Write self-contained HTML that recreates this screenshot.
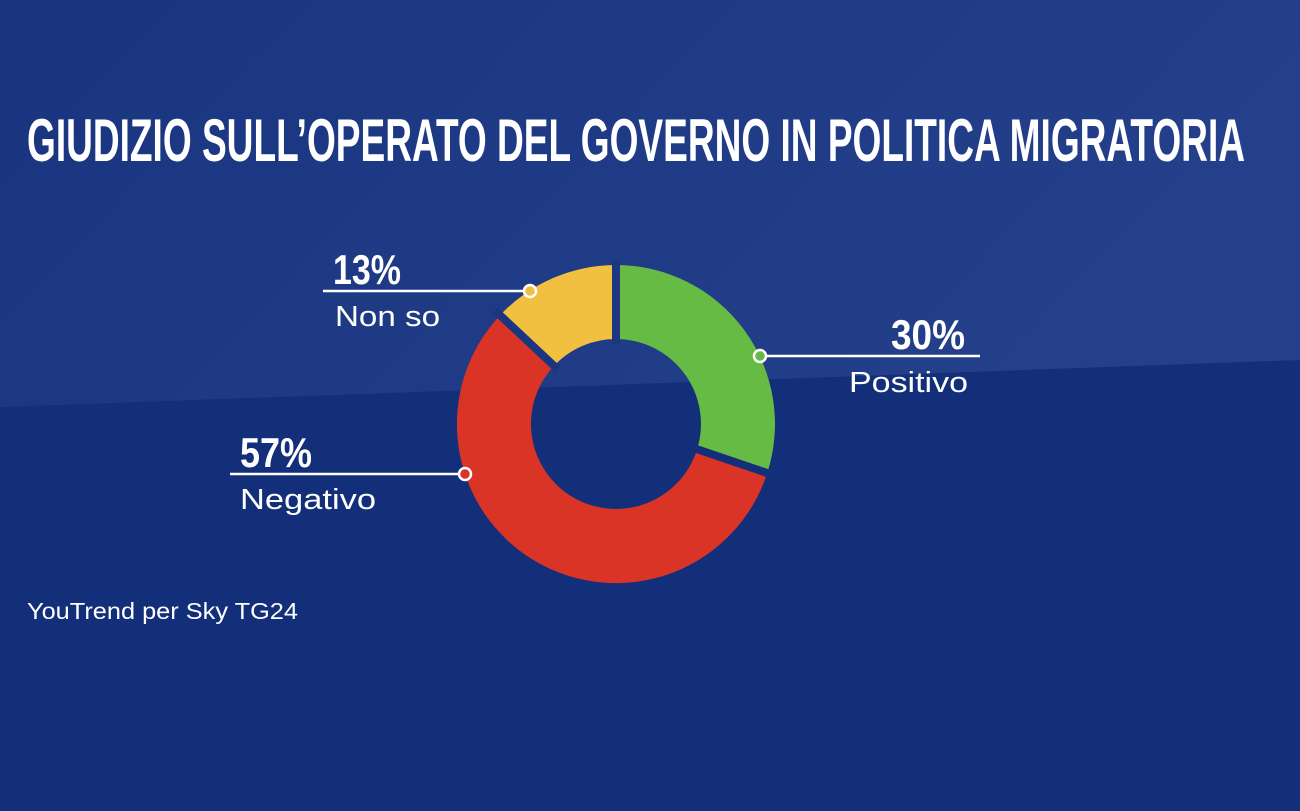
<!DOCTYPE html>
<html><head><meta charset="utf-8"><style>
body{margin:0;width:1300px;height:806px;overflow:hidden;background:#132f7a;font-family:"Liberation Sans",sans-serif}
</style></head><body>
<svg width="1300" height="806" viewBox="0 0 1300 806" xmlns="http://www.w3.org/2000/svg">
<defs>
<linearGradient id="bg" x1="0" y1="0" x2="1" y2="0.3">
<stop offset="0" stop-color="#1a3580"/><stop offset="1" stop-color="#24408a"/>
</linearGradient>
</defs>
<rect width="1300" height="806" fill="#132f7a"/>
<polygon points="0,0 1300,0 1300,360 0,407" fill="url(#bg)"/>
<text x="27" y="161" fill="#fff" font-family="Liberation Sans Narrow, Liberation Sans, sans-serif" font-weight="bold" font-size="60" textLength="1218" lengthAdjust="spacingAndGlyphs">GIUDIZIO SULL’OPERATO DEL GOVERNO IN POLITICA MIGRATORIA</text>
<g transform="translate(616,424)">
<path d="M0,-159 A159,159 0 0 1 151.2,49.1 L80.8,26.3 A85,85 0 0 0 0,-85 Z" fill="#66bb44"/>
<path d="M151.2,49.1 A159,159 0 1 1 -115.9,-108.8 L-62,-58.2 A85,85 0 1 0 80.8,26.3 Z" fill="#d93425"/>
<path d="M-115.9,-108.8 A159,159 0 0 1 0,-159 L0,-85 A85,85 0 0 0 -62,-58.2 Z" fill="#f2c040"/>
<g stroke-width="8">
<line x1="0" y1="-80" x2="0" y2="-165" stroke="#1c3782"/>
<line x1="76" y1="23.5" x2="158" y2="51.3" stroke="#132f7a"/>
<line x1="-58" y1="-54.5" x2="-121" y2="-113.5" stroke="#1b3681"/>
</g>
</g>
<g stroke="#fff" stroke-width="2.5" fill="none">
<line x1="323" y1="291" x2="530" y2="291"/>
<line x1="760" y1="356" x2="980" y2="356"/>
<line x1="230" y1="474" x2="465" y2="474"/>
</g>
<circle cx="530" cy="291" r="6" fill="#f2c040" stroke="#fff" stroke-width="2.5"/>
<circle cx="760" cy="356" r="6" fill="#66bb44" stroke="#fff" stroke-width="2.5"/>
<circle cx="465" cy="474" r="6" fill="#d93425" stroke="#fff" stroke-width="2.5"/>
<g fill="#fff" font-family="Liberation Sans Narrow, Liberation Sans, sans-serif" font-weight="bold" font-size="42" lengthAdjust="spacingAndGlyphs">
<text x="333" y="284" textLength="68" lengthAdjust="spacingAndGlyphs">13%</text>
<text x="891" y="349" textLength="74" lengthAdjust="spacingAndGlyphs">30%</text>
<text x="240" y="467" textLength="72" lengthAdjust="spacingAndGlyphs">57%</text>
</g>
<g fill="#fff" font-size="29">
<text x="335" y="326" textLength="105" lengthAdjust="spacingAndGlyphs">Non so</text>
<text x="849" y="392" textLength="119" lengthAdjust="spacingAndGlyphs">Positivo</text>
<text x="240" y="509" textLength="136" lengthAdjust="spacingAndGlyphs">Negativo</text>
<text x="27" y="619" font-size="23" textLength="271" lengthAdjust="spacingAndGlyphs">YouTrend per Sky TG24</text>
</g>
</svg>
</body></html>
